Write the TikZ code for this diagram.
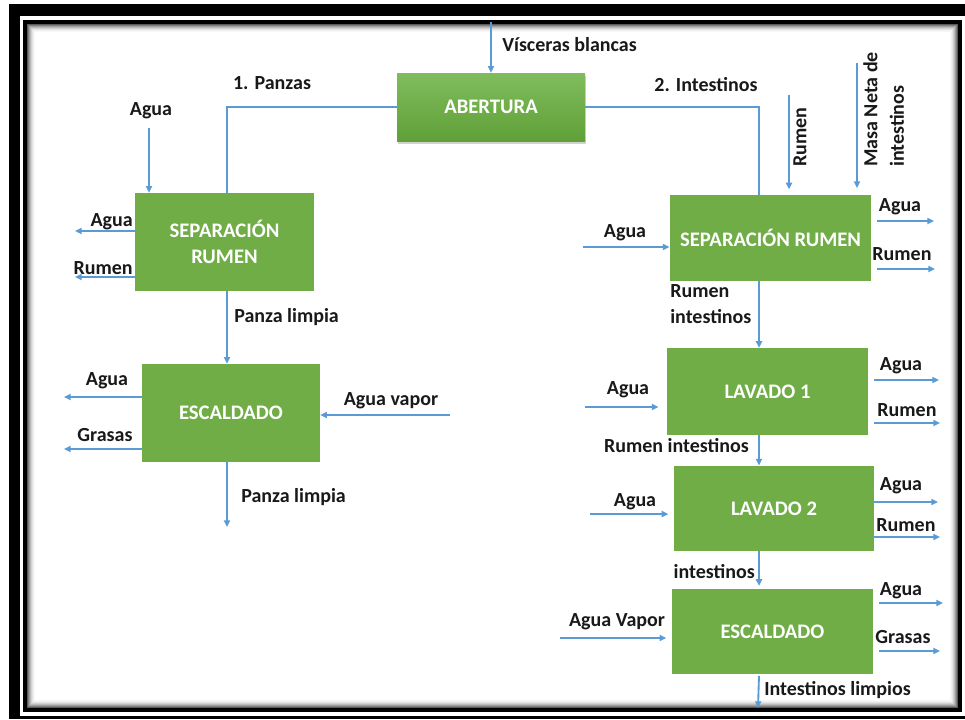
\documentclass[tikz,border=0pt]{standalone}
\usepackage{fontspec}
\setmainfont{Carlito}
\usetikzlibrary{arrows.meta,shadows}
\definecolor{verde}{RGB}{112,173,71}
\definecolor{verdeclaro}{RGB}{128,188,92}
\definecolor{verdeoscuro}{RGB}{96,160,56}
\definecolor{azul}{RGB}{91,155,213}
\tikzset{
  caja/.style={fill=verde, text=white, align=center, inner sep=0pt,
    font=\bfseries\fontsize{15.5}{20}\selectfont},
  etiqueta/.style={inner sep=0pt, text=black!90, align=left,
    font=\bfseries\fontsize{15}{20}\selectfont},
  flecha/.style={azul, line width=1.4pt, -{Triangle[length=5pt,width=4.5pt]}},
  linea/.style={azul, line width=1.4pt},
  salida/.style={flecha, shorten <=4pt}
}
\begin{document}
\begin{tikzpicture}[x=0.75pt,y=-0.75pt]
  \useasboundingbox (0,0) rectangle (965,719);
  % 外枠
  \fill (9,4) rectangle (965,719);
  \fill[white] (20,16) rectangle (965,716);
  \fill (23,20) rectangle (962,712);
  \fill[white] (27,24) rectangle (958,708);
  \foreach \i/\g in {0/65,1/50,2/38,3/27,4/18,5/11,6/6,7/3}
    \draw[black!\g, line width=0.75pt] (27.5+\i,24.5+\i) rectangle (957.5-\i,707.5-\i);

  % 工程の箱
  \node[caja, minimum width=141pt, minimum height=51pt,
    top color=verdeclaro, bottom color=verdeoscuro,
    drop shadow={opacity=0.35, shadow xshift=1pt, shadow yshift=-2pt}]
    (abertura) at (491,107) {ABERTURA};
  \node[caja, minimum width=134pt, minimum height=73.5pt] (sepA) at (224.5,242) {SEPARACIÓN\\RUMEN};
  \node[caja, minimum width=133.5pt, minimum height=73.5pt] (escA) at (231,413) {ESCALDADO};
  \node[caja, minimum width=151pt, minimum height=64.5pt] (sepB) at (770.5,238) {SEPARACIÓN RUMEN};
  \node[caja, minimum width=151pt, minimum height=65pt] (lav1) at (767.5,391.5) {LAVADO 1};
  \node[caja, minimum width=150pt, minimum height=64pt] (lav2) at (774,508.5) {LAVADO 2};
  \node[caja, minimum width=151pt, minimum height=64pt] (escB) at (772.5,631.5) {ESCALDADO};

  % 端点
  \coordinate (ejeA) at (227,0);
  \coordinate (ejeB) at (759,0);
  \coordinate (entrada) at (491,22);
  \coordinate (aguaA) at (149,128);
  \coordinate (sA1) at (75,231);
  \coordinate (sA2) at (75,277);
  \coordinate (eA1) at (64,397);
  \coordinate (eA2) at (64,449);
  \coordinate (vapA) at (450,415);
  \coordinate (finA) at (227,527);
  \coordinate (rumen) at (789,95);
  \coordinate (masa) at (857,63);
  \coordinate (iB0) at (583,247);
  \coordinate (sB1) at (934,221);
  \coordinate (sB2) at (935,269);
  \coordinate (iL1) at (585,407);
  \coordinate (sL1a) at (939,380);
  \coordinate (sL1b) at (940,423);
  \coordinate (iL2) at (590,514);
  \coordinate (sL2a) at (938,502);
  \coordinate (sL2b) at (940,537);
  \coordinate (iE) at (560,638);
  \coordinate (sEa) at (943,603);
  \coordinate (sEb) at (940,651);
  \coordinate (finB) at (758,708);

  % 接続
  \draw[flecha] (entrada) -- (abertura.north);
  \draw[linea] (abertura.west) -| (ejeA |- sepA.north);
  \draw[linea] (abertura.east) -| (ejeB |- sepB.north);
  \draw[flecha] (aguaA) -- (sepA.north -| aguaA);
  \draw[flecha] (sepA.west |- sA1) -- (sA1);
  \draw[flecha] (sepA.west |- sA2) -- (sA2);
  \draw[flecha, line width=2pt] (ejeA |- sepA.south) -- (ejeA |- escA.north);
  \draw[flecha] (escA.west |- eA1) -- (eA1);
  \draw[flecha] (escA.west |- eA2) -- (eA2);
  \draw[flecha] (vapA) -- (escA.east |- vapA);
  \draw[flecha] (ejeA |- escA.south) -- (finA);
  \draw[flecha] (rumen) -- ([yshift=4pt]sepB.north -| rumen);
  \draw[flecha] (masa) -- ([yshift=5pt]sepB.north -| masa);
  \draw[flecha] (iB0) -- (sepB.west |- iB0);
  \draw[salida] (sepB.east |- sB1) -- (sB1);
  \draw[salida] (sepB.east |- sB2) -- (sB2);
  \draw[flecha] (ejeB |- sepB.south) -- (ejeB |- lav1.north);
  \draw[flecha] (iL1) -- ([xshift=-6pt]lav1.west |- iL1);
  \draw[salida] (lav1.east |- sL1a) -- (sL1a);
  \draw[salida] (lav1.east |- sL1b) -- (sL1b);
  \draw[flecha] (ejeB |- lav1.south) -- (ejeB |- lav2.north);
  \draw[flecha] (iL2) -- ([xshift=-4pt]lav2.west |- iL2);
  \draw[flecha] (lav2.east |- sL2a) -- (sL2a);
  \draw[flecha] (lav2.east |- sL2b) -- (sL2b);
  \draw[flecha] (ejeB |- lav2.south) -- ([yshift=2pt]ejeB |- escB.north);
  \draw[flecha] (iE) -- ([xshift=-4pt]escB.west |- iE);
  \draw[salida] (escB.east |- sEa) -- (sEa);
  \draw[salida] (escB.east |- sEb) -- (sEb);
  \draw[flecha] ([yshift=-1pt]ejeB |- escB.south) -- (finB);

  % ラベル
  \node[etiqueta, anchor=west] (lvisc) at (502,45) {Vísceras blancas};
  \node[etiqueta] (lpanz) at (272,83) {1. Panzas};
  \node[etiqueta] (lintes) at (706,85) {2. Intestinos};
  \node[etiqueta] (lagua0) at (151,111) {Agua};
  \node[etiqueta, anchor=east] (lsA1) at (133,222) {Agua};
  \node[etiqueta, anchor=east] (lsA2) at (133,268) {Rumen};
  \node[etiqueta, anchor=west] (lpl1) at (234,317) {Panza limpia};
  \node[etiqueta] (leA1) at (107,381) {Agua};
  \node[etiqueta] (leA2) at (105,435) {Grasas};
  \node[etiqueta] (lvapA) at (391,401) {Agua vapor};
  \node[etiqueta, anchor=west] (lpl2) at (241,497) {Panza limpia};
  \node[etiqueta, rotate=90] (lrumen) at (800,137) {Rumen};
  \node[etiqueta, rotate=90, anchor=north west] (lmasa) at (863,167) {Masa Neta de\\intestinos};
  \node[etiqueta] (liB) at (625,233) {Agua};
  \node[etiqueta] (lsB1) at (900,207) {Agua};
  \node[etiqueta] (lsB2) at (902,254) {Rumen};
  \node[etiqueta, anchor=north west] (lri1) at (670,284) {Rumen\\intestinos};
  \node[etiqueta] (liL1) at (628,390) {Agua};
  \node[etiqueta] (lsL1a) at (901,366) {Agua};
  \node[etiqueta] (lsL1b) at (907,410) {Rumen};
  \node[etiqueta, anchor=east] (lri2) at (749,446) {Rumen intestinos};
  \node[etiqueta] (liL2) at (635,502) {Agua};
  \node[etiqueta] (lsL2a) at (901,486) {Agua};
  \node[etiqueta] (lsL2b) at (906,525) {Rumen};
  \node[etiqueta, anchor=east] (lint) at (755,572) {intestinos};
  \node[etiqueta] (liE) at (617,622) {Agua Vapor};
  \node[etiqueta] (lsEa) at (901,591) {Agua};
  \node[etiqueta] (lsEb) at (903,637) {Grasas};
  \node[etiqueta, anchor=west] (lil) at (764,690) {Intestinos limpios};
\end{tikzpicture}
\end{document}
